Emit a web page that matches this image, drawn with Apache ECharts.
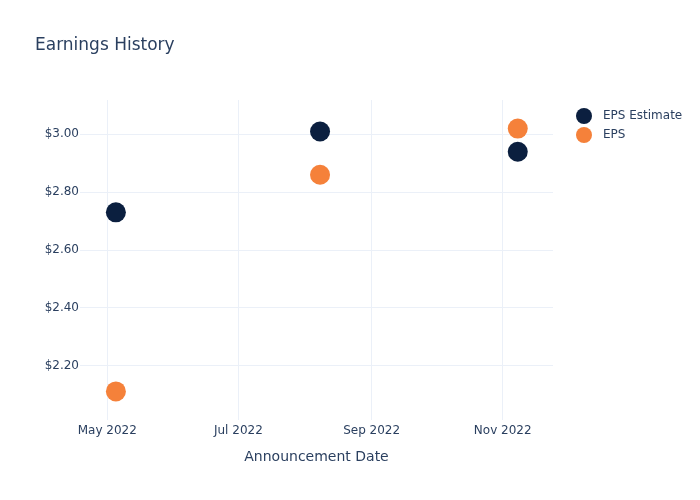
<!DOCTYPE html>
<html>
<head>
<meta charset="utf-8">
<script src="https://cdn.jsdelivr.net/npm/echarts@6/dist/echarts.min.js"></script>
<style>html,body{margin:0;padding:0;background:#fff;}#c{width:700px;height:500px;}</style>
</head>
<body>
<div id="c"></div>
<script>
const dates = ['2022-05-05', '2022-08-08', '2022-11-08'];
const epsEstimate = [2.73, 3.01, 2.94];
const eps = [2.11, 2.86, 3.02];
const xTicks = ['2022-05-01', '2022-07-01', '2022-09-01', '2022-11-01'];
const yTicks = [2.2, 2.4, 2.6, 2.8, 3.0];
const monthNames = ['Jan','Feb','Mar','Apr','May','Jun','Jul','Aug','Sep','Oct','Nov','Dec'];

function toTs(s) { const [y, m, d] = s.split('-').map(Number); return Date.UTC(y, m - 1, d); }
const DAY = 86400000;
const font = '"DejaVu Sans", Verdana, sans-serif';
const txt = '#2a3f5f';

const chart = echarts.init(document.getElementById('c'), null, { renderer: 'canvas' });
chart.setOption({
  backgroundColor: '#fff',
  animation: false,
  title: {
    text: 'Earnings History', left: 30, top: 32,
    textStyle: { fontFamily: font, fontSize: 17, fontWeight: 'normal', color: txt }
  },
  legend: {
    orient: 'vertical', left: 571, top: 103,
    icon: 'circle', itemWidth: 16, itemHeight: 16, itemGap: 3,
    textStyle: { fontFamily: font, fontSize: 12, color: txt, padding: [0, 0, 0, 6] },
    data: ['EPS Estimate', 'EPS']
  },
  grid: { left: 80, right: 147, top: 100, bottom: 80, containLabel: false },
  xAxis: {
    type: 'value',
    min: toTs('2022-05-01') - 12.7 * DAY,
    max: toTs('2022-11-01') + 23.4 * DAY,
    name: 'Announcement Date', nameLocation: 'middle', nameGap: 30,
    nameTextStyle: { fontFamily: font, fontSize: 14, color: txt },
    axisLine: { show: false },
    axisTick: { show: false, customValues: xTicks.map(toTs) },
    axisLabel: {
      customValues: xTicks.map(toTs), margin: 5,
      fontFamily: font, fontSize: 12, color: txt,
      formatter: v => { const d = new Date(v); return monthNames[d.getUTCMonth()] + ' ' + d.getUTCFullYear(); }
    },
    splitLine: { show: true, lineStyle: { color: '#ebf0f8', width: 1 } }
  },
  yAxis: {
    type: 'value', min: 2.011, max: 3.119,
    axisLine: { show: false },
    axisTick: { show: false, customValues: yTicks },
    axisLabel: {
      customValues: yTicks, margin: 1,
      fontFamily: font, fontSize: 12, color: txt,
      formatter: v => '$' + v.toFixed(2)
    },
    splitLine: { show: true, lineStyle: { color: '#ebf0f8', width: 1 } }
  },
  series: [
    {
      name: 'EPS Estimate', type: 'scatter', symbolSize: 20,
      itemStyle: { color: '#0b1f3f', opacity: 1 },
      data: dates.map((d, i) => [toTs(d), epsEstimate[i]])
    },
    {
      name: 'EPS', type: 'scatter', symbolSize: 20,
      itemStyle: { color: '#f5813a', opacity: 1 },
      data: dates.map((d, i) => [toTs(d), eps[i]])
    }
  ]
});
</script>
</body>
</html>
